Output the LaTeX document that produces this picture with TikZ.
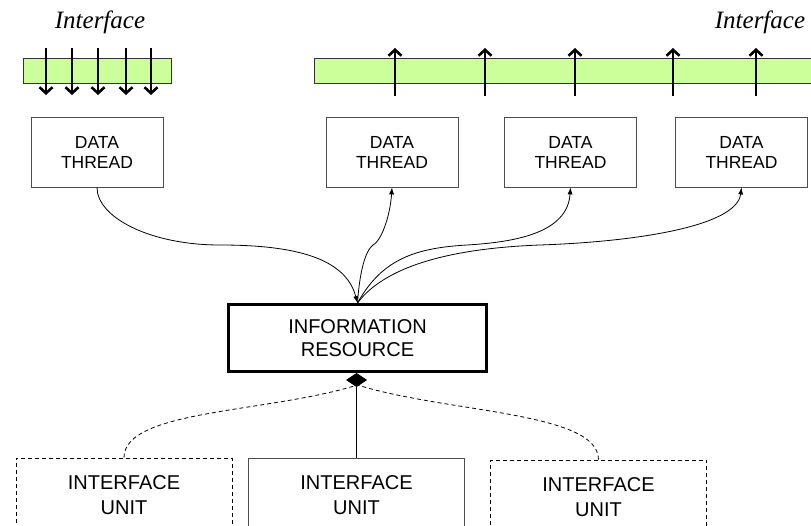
\documentclass[tikz,border=0pt]{standalone}
\usepackage{fontspec}
\setmainfont{Liberation Sans}
\newfontfamily\ifacefont{Liberation Serif}
\usetikzlibrary{arrows.meta}
\definecolor{bargreen}{HTML}{CCFF99}

\begin{document}
\begin{tikzpicture}[x=1pt,y=1pt,
		thread/.style={draw=black!70,line width=0.8pt,minimum width=132pt,minimum height=70pt,inner sep=0pt,align=center,font=\fontsize{17.5}{20}\selectfont},
		unit/.style={draw=black!70,line width=0.8pt,minimum width=216pt,minimum height=74pt,inner sep=0pt,align=center,font=\fontsize{20}{25}\selectfont},
		dashunit/.style={unit,draw=black,dash pattern=on 4pt off 3pt},
		bar/.style={draw=black!80,line width=0.8pt,fill=bargreen},
		flow/.style={line width=2.5pt,-{Straight Barb[length=6pt,width=13pt,line width=2.6pt]}},
		link/.style={line width=0.8pt,-{Latex[length=7pt,width=5pt]}},
		dashlink/.style={line width=0.8pt,dash pattern=on 4pt off 3pt},
		iface/.style={anchor=base,font=\ifacefont\itshape\fontsize{25}{25}\selectfont}]
	\clip (0,0) rectangle (811,-526);
	
	\draw (100,-29) node [iface] (ifl) {Interface};
	\draw (760,-29) node [iface] (ifr) {Interface};
	
	\draw [bar] (23,-58) rectangle (171,-83);
	\draw [bar] (314,-58) rectangle (820,-83);
	\foreach \x in {46,72,98,126,151}{
		\draw [flow] (\x,-48)--(\x,-95);
	}
	\foreach \x in {395,485,575,673,756}{
		\draw [flow] (\x,-96)--(\x,-48);
	}
	
	\draw (97,-152) node [thread] (dt1) {DATA\\THREAD};
	\draw (392,-152) node [thread] (dt2) {DATA\\THREAD};
	\draw (570.5,-152) node [thread] (dt3) {DATA\\THREAD};
	\draw (741.5,-152) node [thread] (dt4) {DATA\\THREAD};
	
	\draw (357.5,-338) node [draw,line width=3pt,minimum width=258pt,minimum height=67pt,inner sep=0pt,align=center,font=\fontsize{20}{23}\selectfont] (info) {INFORMATION\\RESOURCE};
	
	\draw (124,-495) node [dashunit] (iu1) {INTERFACE\\UNIT};
	\draw (356.5,-495) node [unit] (iu2) {INTERFACE\\UNIT};
	\draw (598.5,-497) node [dashunit] (iu3) {INTERFACE\\UNIT};
	
	\draw [link] (dt1.south) .. controls +(0,-30) and +(-70,0) .. (220,-245) .. controls +(75,0) and +(-12,45) .. (info.north);
	\draw [link] (info.north) .. controls +(2,30) and +(-8,-6) .. (373,-245) .. controls +(8,4) and +(-2,-30) .. (dt2.south);
	\draw [link] (info.north) .. controls +(25,45) and +(-50,-3) .. (467,-245) .. controls +(50,3) and +(-3,-45) .. (dt3.south);
	\draw [link] (info.north) .. controls +(30,40) and +(-80,-3) .. (540,-245) .. controls +(90,3) and +(-5,-40) .. (dt4.south);
	
	\coordinate (dm) at ([yshift=-12pt]info.south);
	\draw [dashlink] (iu1.north) .. controls +(0,48) and +(-90,-28) .. (dm);
	\draw [dashlink] (iu3.north) .. controls +(0,48) and +(90,-28) .. (dm);
	\draw [line width=0.8pt,-{Diamond[length=14pt,width=21pt]}] (iu2.north)--(iu2.north |- info.south);
	
\end{tikzpicture}
\end{document}
